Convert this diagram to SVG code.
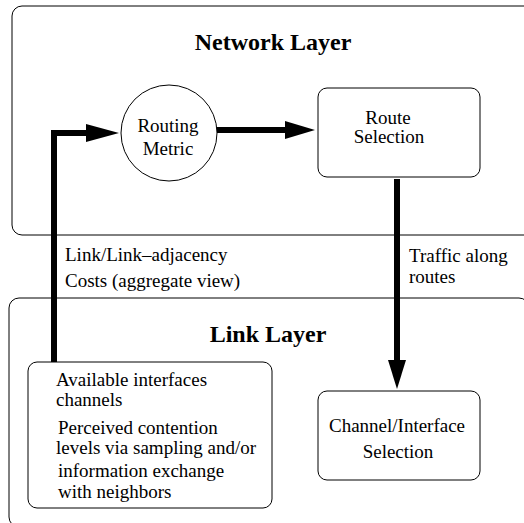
<svg xmlns="http://www.w3.org/2000/svg" width="524" height="523" viewBox="0 0 524 523">
<defs>
<style>
.frame{fill:none;stroke:#000;stroke-width:1}
.node{fill:#fff;stroke:#000;stroke-width:1}
.t{font-size:19px;fill:#000}
.title{font-size:24px;font-weight:bold;fill:#000}
.conn{fill:none;stroke:#000;stroke-width:6}
.head{fill:#000;stroke:none}
</style>
</defs>
<rect width="524" height="523" fill="#fff"/>
<g font-family="Liberation Serif">
<g id="network-layer">
<rect class="frame" x="12" y="6" width="530" height="229" rx="10"/>
<text class="title" x="273" y="50" text-anchor="middle" font-family="Liberation Serif">Network Layer</text>
</g>
<g id="link-layer">
<rect class="frame" x="9" y="298" width="520" height="229" rx="10"/>
<text class="title" x="268" y="342" text-anchor="middle" font-family="Liberation Serif">Link Layer</text>
</g>
<g id="routing-metric">
<circle class="node" cx="169" cy="133" r="48"/>
<text class="t" x="168" y="132" text-anchor="middle" font-family="Liberation Serif">Routing</text>
<text class="t" x="168" y="155" text-anchor="middle" font-family="Liberation Serif">Metric</text>
</g>
<g id="route-selection">
<rect class="node" x="318" y="88" width="162" height="89" rx="9"/>
<text class="t" x="388" y="124" text-anchor="middle" font-family="Liberation Serif">Route</text>
<text class="t" x="389" y="143" text-anchor="middle" font-family="Liberation Serif">Selection</text>
</g>
<g id="available">
<rect class="node" x="28" y="362" width="244" height="146" rx="9"/>
<text class="t" x="56" y="386" font-family="Liberation Serif">Available interfaces</text>
<text class="t" x="56" y="406" font-family="Liberation Serif">channels</text>
<text class="t" x="58" y="434" font-family="Liberation Serif">Perceived contention</text>
<text class="t" x="56" y="454" font-family="Liberation Serif">levels via sampling and/or</text>
<text class="t" x="58" y="477" font-family="Liberation Serif">information exchange</text>
<text class="t" x="58" y="498" font-family="Liberation Serif">with neighbors</text>
</g>
<g id="channel-selection">
<rect class="node" x="318" y="391" width="162" height="89" rx="9"/>
<text class="t" x="397" y="432" text-anchor="middle" font-family="Liberation Serif">Channel/Interface</text>
<text class="t" x="398" y="458" text-anchor="middle" font-family="Liberation Serif">Selection</text>
</g>
<g id="connectors">
<polyline class="conn" points="54,362 54,133 88,133"/>
<polygon class="head" points="86,124 119,133 86,142"/>
<line class="conn" x1="217" y1="130" x2="287" y2="130"/>
<polygon class="head" points="285,121 315,130 285,139"/>
<line class="conn" x1="397" y1="179" x2="397" y2="362"/>
<polygon class="head" points="388,360 397,389 406,360"/>
<text class="t" x="65" y="261" font-family="Liberation Serif">Link/Link–adjacency</text>
<text class="t" x="65" y="287" font-family="Liberation Serif">Costs (aggregate view)</text>
<text class="t" x="409" y="262" font-family="Liberation Serif">Traffic along</text>
<text class="t" x="409" y="283" font-family="Liberation Serif">routes</text>
</g>
</g>
</svg>
